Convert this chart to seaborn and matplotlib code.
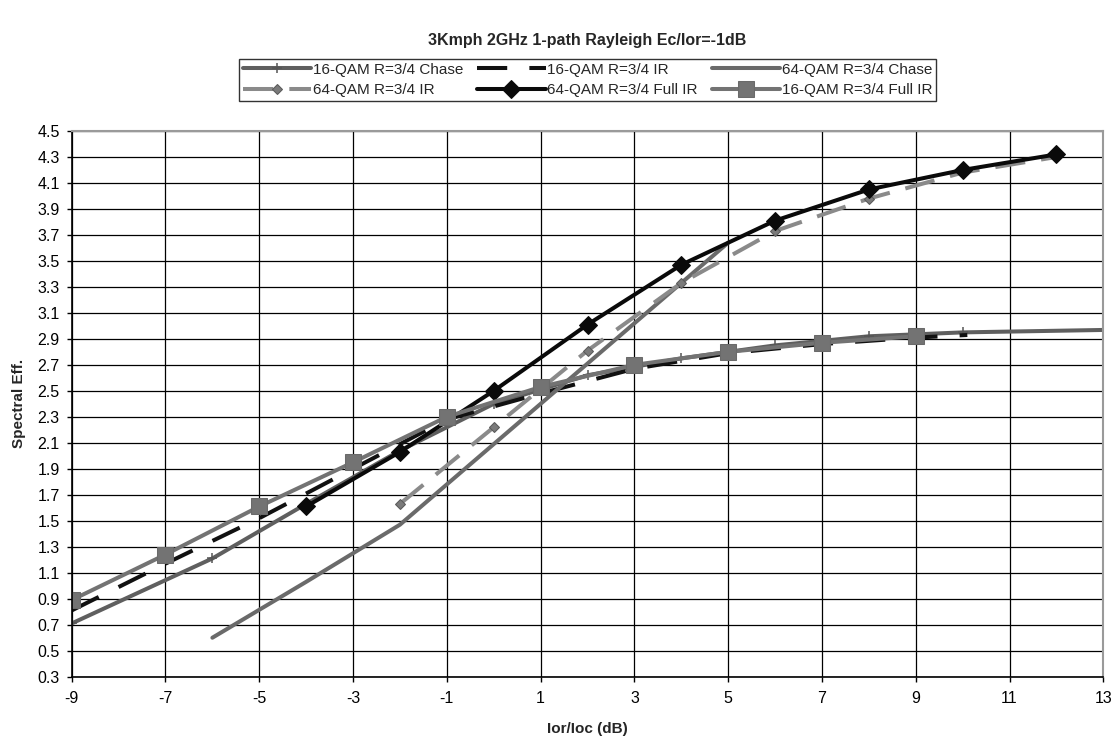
import matplotlib
matplotlib.use("Agg")
import matplotlib.pyplot as plt
import seaborn as sns
import numpy as np

sns.set_theme(style="white")
plt.rcParams['font.family'] = ['Liberation Sans', 'DejaVu Sans']
plt.rcParams['axes.unicode_minus'] = False

# ---- data ----
x_16_chase = [-9, -6, -4, -2, 0, 2, 4, 6, 8, 10, 13.2]
y_16_chase = [0.71, 1.21, 1.63, 2.04, 2.40, 2.62, 2.75, 2.85, 2.92, 2.95, 2.97]

x_16_ir = [-9, -7, -5, -3, -1, 1, 3, 5, 7, 9, 10.1]
y_16_ir = [0.81, 1.17, 1.52, 1.90, 2.28, 2.48, 2.67, 2.79, 2.86, 2.91, 2.93]

x_64_chase = [-6, -4, -2, 0, 2, 4, 5]
y_64_chase = [0.60, 1.03, 1.47, 2.09, 2.71, 3.33, 3.64]

x_64_ir = [-2, 0, 2, 4, 6, 8, 10, 12]
y_64_ir = [1.63, 2.22, 2.81, 3.33, 3.73, 3.98, 4.18, 4.30]

x_64_full = [-4, -2, 0, 2, 4, 6, 8, 10, 12]
y_64_full = [1.61, 2.03, 2.50, 3.01, 3.47, 3.81, 4.05, 4.20, 4.32]

x_16_full = [-9, -7, -5, -3, -1, 1, 3, 5, 7, 9]
y_16_full = [0.89, 1.24, 1.61, 1.95, 2.30, 2.53, 2.70, 2.80, 2.87, 2.92]

labels = ["16-QAM R=3/4 Chase", "16-QAM R=3/4 IR", "64-QAM R=3/4 Chase",
          "64-QAM R=3/4 IR", "64-QAM R=3/4 Full IR", "16-QAM R=3/4 Full IR"]
x_ticks = [-9, -7, -5, -3, -1, 1, 3, 5, 7, 9, 11, 13]
y_ticks = [round(0.3 + 0.2 * i, 1) for i in range(22)]

W, H = 1120, 743
fig = plt.figure(figsize=(W / 100, H / 100), dpi=100)
ax_l, ax_r, ax_t, ax_b = 71.7, 1103.3, 131.0, 676.7
ax = fig.add_axes([ax_l / W, 1 - ax_b / H, (ax_r - ax_l) / W, (ax_b - ax_t) / H])

lw = 2.9
sns.lineplot(x=x_16_chase, y=y_16_chase, ax=ax, color="#5f5f5f", lw=lw,
             marker="+", markersize=7, markeredgewidth=1.1, markeredgecolor="#555555",
             label=labels[0], sort=False)
sns.lineplot(x=x_16_ir, y=y_16_ir, ax=ax, color="#111111", lw=lw,
             linestyle=(0, (7.5, 5.5)), label=labels[1], sort=False)
sns.lineplot(x=x_64_chase, y=y_64_chase, ax=ax, color="#6a6a6a", lw=lw,
             label=labels[2], sort=False)
sns.lineplot(x=x_64_ir, y=y_64_ir, ax=ax, color="#8a8a8a", lw=lw,
             linestyle=(0, (7.5, 4)), marker="D", markersize=5,
             markerfacecolor="#7a7a7a", markeredgecolor="#5a5a5a", label=labels[3], sort=False)
sns.lineplot(x=x_64_full, y=y_64_full, ax=ax, color="#0a0a0a", lw=lw,
             marker="D", markersize=9, markeredgecolor="#0a0a0a", label=labels[4], sort=False)
sns.lineplot(x=x_16_full, y=y_16_full, ax=ax, color="#737373", lw=lw,
             marker="s", markersize=11, markeredgecolor="#6a6a6a", label=labels[5], sort=False)

ax.set_xlim(-9, 13)
ax.set_ylim(0.3, 4.5)
ax.set_xticks(x_ticks)
ax.set_xticklabels([str(v) for v in x_ticks])
ax.set_yticks(y_ticks)
ax.set_yticklabels([f"{v:.1f}" for v in y_ticks])
ax.grid(True, color="black", lw=0.9)
ax.tick_params(axis="both", labelsize=11.5, length=3.6, width=1, direction="out",
               colors="black", bottom=True, left=True)
ax.tick_params(axis="y", pad=5)
ax.tick_params(axis="x", pad=7)
for side in ["left", "bottom"]:
    ax.spines[side].set_color("black")
    ax.spines[side].set_linewidth(1.2)
for side in ["top", "right"]:
    ax.spines[side].set_color("#9a9a9a")
    ax.spines[side].set_linewidth(1.5)

ax.set_xlabel("Ior/Ioc (dB)", fontsize=11, fontweight="bold", labelpad=11)
ax.set_ylabel("Spectral Eff.", fontsize=11, fontweight="bold", labelpad=8)
fig.text(0.5 * (ax_l + ax_r) / W, 1 - 41 / H, "3Kmph 2GHz 1-path Rayleigh Ec/Ior=-1dB",
         fontsize=11.5, fontweight="bold", ha="center", va="center")

handles, labs = ax.get_legend_handles_labels()
order = [0, 3, 1, 4, 2, 5]
leg = ax.legend([handles[i] for i in order], [labs[i] for i in order], ncol=3,
                loc="center", bbox_to_anchor=(0.5, (ax_b - 80) / (ax_b - ax_t)),
                fontsize=11, frameon=True,
                fancybox=False, edgecolor="black", handlelength=4.5, handletextpad=0.1,
                columnspacing=0.9, labelspacing=0.42, borderpad=0.25, borderaxespad=0)
leg.get_frame().set_linewidth(1.0)

fig.savefig("out.png", dpi=100)
